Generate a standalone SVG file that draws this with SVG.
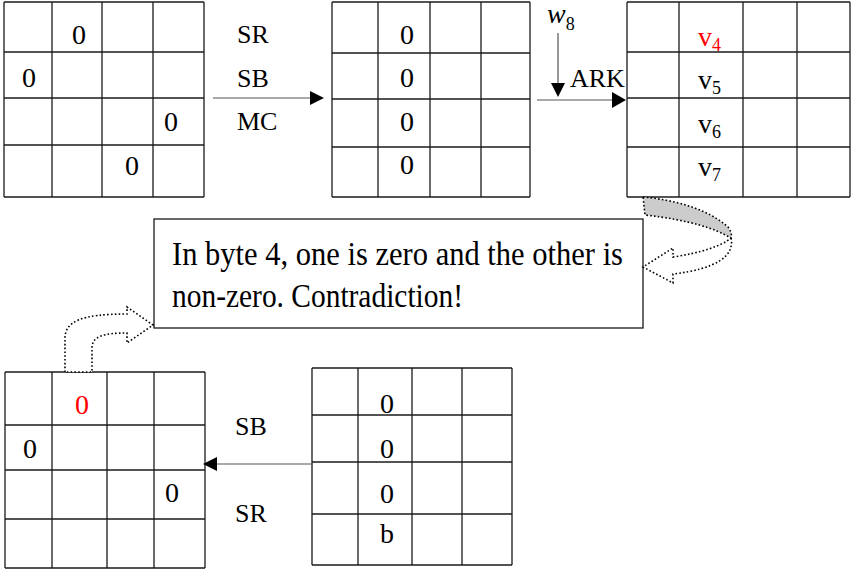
<svg xmlns="http://www.w3.org/2000/svg" width="851" height="571" viewBox="0 0 851 571">
<style>
.g line{stroke:#1a1a1a;stroke-width:1.3}
.t{font-family:"Liberation Serif","Times New Roman",serif;font-size:28px;fill:#000}
.c{text-anchor:middle}
.lbl{font-family:"Liberation Serif","Times New Roman",serif;font-size:26px;fill:#000}
.sub{font-size:18px}
.red{fill:#ff0000}
.ln{stroke:#555;stroke-width:1.2;fill:none}
.hd{fill:#000}
.dot{stroke:#000;stroke-width:1.6;stroke-dasharray:1.6 2.2}
</style>
<rect width="851" height="571" fill="#fff"/>
<g id="grid1" class="g">
<line x1="4" y1="2" x2="204" y2="2"/><line x1="4" y1="52" x2="204" y2="52"/><line x1="4" y1="98" x2="204" y2="98"/><line x1="4" y1="145" x2="204" y2="145"/><line x1="4" y1="197" x2="204" y2="197"/>
<line x1="4" y1="2" x2="4" y2="197"/><line x1="52" y1="2" x2="52" y2="197"/><line x1="102" y1="2" x2="102" y2="197"/><line x1="153" y1="2" x2="153" y2="197"/><line x1="204" y1="2" x2="204" y2="197"/>
<text class="t c" x="79" y="44">0</text>
<text class="t c" x="29" y="87">0</text>
<text class="t c" x="171" y="131">0</text>
<text class="t c" x="132" y="175">0</text>
</g>
<g id="grid2" class="g">
<line x1="332" y1="2" x2="530" y2="2"/><line x1="332" y1="53" x2="530" y2="53"/><line x1="332" y1="99" x2="530" y2="99"/><line x1="332" y1="147" x2="530" y2="147"/><line x1="332" y1="197" x2="530" y2="197"/>
<line x1="332" y1="2" x2="332" y2="197"/><line x1="378" y1="2" x2="378" y2="197"/><line x1="430" y1="2" x2="430" y2="197"/><line x1="481" y1="2" x2="481" y2="197"/><line x1="530" y1="2" x2="530" y2="197"/>
<text class="t c" x="407" y="44">0</text>
<text class="t c" x="407" y="87">0</text>
<text class="t c" x="407" y="131">0</text>
<text class="t c" x="407" y="174">0</text>
</g>
<g id="grid3" class="g">
<line x1="627" y1="2" x2="850" y2="2"/><line x1="627" y1="52" x2="850" y2="52"/><line x1="627" y1="98" x2="850" y2="98"/><line x1="627" y1="147" x2="850" y2="147"/><line x1="627" y1="197" x2="850" y2="197"/>
<line x1="627" y1="2" x2="627" y2="197"/><line x1="679" y1="2" x2="679" y2="197"/><line x1="743" y1="2" x2="743" y2="197"/><line x1="797" y1="2" x2="797" y2="197"/><line x1="850" y1="2" x2="850" y2="197"/>
<text class="t red" x="698" y="46">v<tspan class="sub" dy="5">4</tspan></text>
<text class="t" x="698" y="89">v<tspan class="sub" dy="5">5</tspan></text>
<text class="t" x="698" y="133">v<tspan class="sub" dy="5">6</tspan></text>
<text class="t" x="698" y="176">v<tspan class="sub" dy="5">7</tspan></text>
</g>
<g id="grid4" class="g">
<line x1="5" y1="372" x2="205" y2="372"/><line x1="5" y1="425" x2="205" y2="425"/><line x1="5" y1="470" x2="205" y2="470"/><line x1="5" y1="519" x2="205" y2="519"/><line x1="5" y1="568" x2="205" y2="568"/>
<line x1="5" y1="372" x2="5" y2="568"/><line x1="52" y1="372" x2="52" y2="568"/><line x1="107" y1="372" x2="107" y2="568"/><line x1="154" y1="372" x2="154" y2="568"/><line x1="205" y1="372" x2="205" y2="568"/>
<text class="t c red" x="82" y="414">0</text>
<text class="t c" x="30" y="458">0</text>
<text class="t c" x="172" y="502">0</text>
</g>
<g id="grid5" class="g">
<line x1="312" y1="368" x2="512" y2="368"/><line x1="312" y1="415" x2="512" y2="415"/><line x1="312" y1="462" x2="512" y2="462"/><line x1="312" y1="514" x2="512" y2="514"/><line x1="312" y1="565" x2="512" y2="565"/>
<line x1="312" y1="368" x2="312" y2="565"/><line x1="358" y1="368" x2="358" y2="565"/><line x1="412" y1="368" x2="412" y2="565"/><line x1="462" y1="368" x2="462" y2="565"/><line x1="512" y1="368" x2="512" y2="565"/>
<text class="t c" x="387" y="413">0</text>
<text class="t c" x="387" y="458">0</text>
<text class="t c" x="387" y="503">0</text>
<text class="t c" x="387" y="543">b</text>
</g>
<g id="note">
<rect x="154" y="219" width="489" height="109" fill="#fff" stroke="#1a1a1a" stroke-width="1.3"/>
<text class="t" transform="translate(172,265) scale(1,1.18)" x="0" y="0" font-size="31" textLength="451" lengthAdjust="spacingAndGlyphs">In byte 4, one is zero and the other is</text>
<text class="t" transform="translate(172,307) scale(1,1.18)" x="0" y="0" font-size="31" textLength="291" lengthAdjust="spacingAndGlyphs">non-zero. Contradiction!</text>
</g>
<g id="connectors">
<line class="ln" x1="213" y1="98" x2="312" y2="98"/>
<polygon class="hd" points="310,91 324,98 310,105"/>
<text class="lbl" x="237" y="43">SR</text>
<text class="lbl" x="237" y="87">SB</text>
<text class="lbl" x="237" y="130">MC</text>
<line class="ln" x1="537" y1="100" x2="614" y2="100"/>
<polygon class="hd" points="612,92 626,100 612,108"/>
<line class="ln" x1="558" y1="33" x2="558" y2="85"/>
<polygon class="hd" points="551,83 558,97 565,83"/>
<text class="t" x="547" y="23" font-size="25" font-style="italic">w<tspan class="sub" font-style="normal" dy="7">8</tspan></text>
<text class="lbl" x="570" y="87" font-size="24">ARK</text>
<line class="ln" x1="313" y1="464" x2="215" y2="464"/>
<polygon class="hd" points="217,457 203,464 217,471"/>
<text class="lbl" x="235" y="435">SB</text>
<text class="lbl" x="235" y="522">SR</text>
<path class="dot" fill="#cccccc" d="M643,197 C675,200 708,209 728,227 C731,231 732,235 731,238 C716,229 690,220 645,215 Z"/>
<path class="dot" fill="#fff" d="M731,238 C735,256 716,269 673,274 L673,283 L643,267 L673,248 L673,257 C700,253 722,246 731,238"/>
<path class="dot" fill="#fff" d="M65,372 L65,337 C66,322 80,314 127,314 L127,307 L153,325 L127,343 L127,333 C104,333 92,336 92,348 L92,372 Z"/>
</g>
</svg>
